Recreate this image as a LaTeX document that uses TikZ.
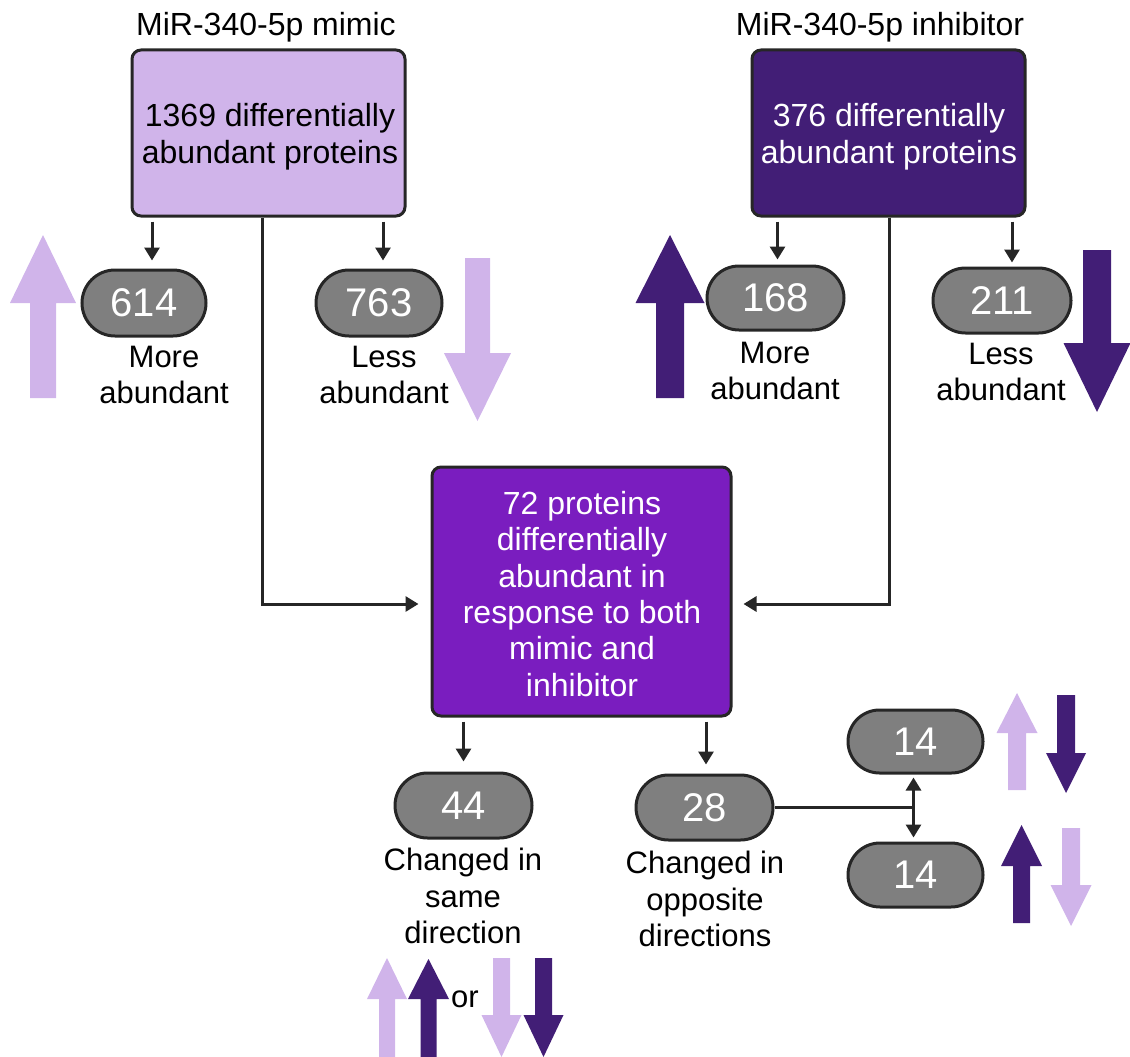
\documentclass[tikz,border=0pt]{standalone}
\usepackage{fontspec}
\setmainfont{Liberation Sans}
\usetikzlibrary{arrows.meta,shapes.misc,calc}
\definecolor{light}{HTML}{D0B4EA}
\definecolor{dark}{HTML}{421E76}
\definecolor{mid}{HTML}{7A1DBF}
\definecolor{pillgray}{HTML}{7F7F7F}
\definecolor{ink}{HTML}{262626}
\newcommand\BlkArrow[7]{%
  \fill[#1] (#2-#6,#5) -- (#2-#6,#4) -- (#2-#7,#4) -- (#2,#3) -- (#2+#7,#4) -- (#2+#6,#4) -- (#2+#6,#5) -- cycle;}
\begin{document}
\begin{tikzpicture}[x=1pt,y=-1pt,
  txt/.style={font=\fontsize{32}{37}\selectfont, align=center, inner sep=0pt},
  lbl/.style={font=\fontsize{31}{36.5}\selectfont, align=center, inner sep=0pt},
  box/.style={draw=ink, line width=3pt, rounded corners=9pt, txt},
  boxtext/.style={txt},
  pill/.style={draw=ink, line width=3pt, rounded rectangle, fill=pillgray, text=white,
    font=\fontsize{40}{44}\selectfont, inner sep=0pt},
  conn/.style={draw=ink, line width=3pt, -{Triangle[length=13pt,width=15pt]}},
  plain/.style={draw=ink, line width=3pt},
]
\useasboundingbox (0,0) rectangle (1130,1057);

% top boxes
\node[txt] (t1) at (266,27) {MiR-340-5p mimic};
\node[box, fill=light, minimum width=273pt, minimum height=166pt] (b1) at (268.5,133) {};
\node[boxtext] (b1t) at (270,137) {1369 differentially\\abundant proteins};
\node[txt] (t2) at (880,27) {MiR-340-5p inhibitor};
\node[box, fill=dark, minimum width=273pt, minimum height=166pt] (b2) at (888.5,133) {};
\node[boxtext, text=white] (b2t) at (889,137) {376 differentially\\abundant proteins};

% pills
\node[pill, minimum width=124pt, minimum height=66pt] (p614) at (144,303) {614};
\node[pill, minimum width=126pt, minimum height=66pt] (p763) at (379,303) {763};
\node[pill, minimum width=137pt, minimum height=64pt] (p168) at (775.5,298) {168};
\node[pill, minimum width=138pt, minimum height=65pt] (p211) at (1002,300.5) {211};

\node[lbl] (l614) at (164,375) {More\\abundant};
\node[lbl] (l763) at (384,375) {Less\\abundant};
\node[lbl] (l168) at (775,371) {More\\abundant};
\node[lbl] (l211) at (1001,372) {Less\\abundant};

% centre box
\node[box, fill=mid, text=white, minimum width=299pt, minimum height=249pt] (c) at (581.5,591.5) {};
\node[boxtext, text=white, font=\fontsize{32}{36.3}\selectfont] (ct) at (582,594)
  {72 proteins\\differentially\\abundant in\\response to both\\mimic and\\inhibitor};

\node[pill, minimum width=137pt, minimum height=65pt] (p44) at (463.5,805.5) {44};
\node[pill, minimum width=137pt, minimum height=65pt] (p28) at (704.5,807.5) {28};
\node[pill, minimum width=135pt, minimum height=63pt] (p14a) at (915.5,741.5) {14};
\node[pill, minimum width=135pt, minimum height=64pt] (p14b) at (915.5,875) {14};

\node[lbl] (l44) at (463,896) {Changed in\\same\\direction};
\node[lbl] (l28) at (705,899) {Changed in\\opposite\\directions};
\node[lbl] (or) at (465,999) {or};

% connectors
\draw[conn] ($(b1.south -| p614.north)+(8,4)$) -- ($(p614.north)+(8,-8)$);
\draw[conn] ($(b1.south -| p763.north)+(4,4)$) -- ($(p763.north)+(4,-8)$);
\draw[conn] ($(b2.south -| p168.north)+(2,4)$) -- ($(p168.north)+(2,-5)$);
\draw[conn] ($(b2.south -| p211.north)+(10,4)$) -- ($(p211.north)+(10,-4)$);

\draw[conn] ($(b1.south)+(-6.5,0)$) |- ($(c.west)+(-12,12.5)$);
\draw[conn] ($(b2.south)+(0.5,0)$) |- ($(c.east)+(11,12.5)$);

\draw[conn] ($(c.south -| p44.north)+(0,4)$) -- ($(p44.north)+(0,-10)$);
\draw[conn] ($(c.south -| p28.north)+(1.5,4)$) -- ($(p28.north)+(1.5,-9)$);

\draw[plain] (p28.east) -- ($(p28.east -| p14a.south)+(-1,0)$);
\draw[draw=ink, line width=3pt, {Triangle[length=13pt,width=15pt]}-{Triangle[length=13pt,width=15pt]}]
  ($(p14a.south)+(-2,3)$) -- ($(p14b.north)+(-2,-4)$);

% block arrows
\BlkArrow{light}{43}{235}{303}{398}{13}{33}
\BlkArrow{light}{477.5}{421}{353}{258}{12.5}{33.5}
\BlkArrow{dark}{670}{235}{303}{398}{14}{34.5}
\BlkArrow{dark}{1097}{412}{343}{250}{14}{33.5}

\BlkArrow{light}{1017}{693}{733}{790}{9}{20.5}
\BlkArrow{dark}{1066}{793}{753}{695}{9}{20}
\BlkArrow{dark}{1021.5}{825}{866}{923}{8.5}{20.5}
\BlkArrow{light}{1071}{926}{885}{828}{9}{20.5}

\BlkArrow{light}{387}{958}{999}{1057}{8}{20}
\BlkArrow{dark}{428.5}{959}{999}{1057}{8}{20.5}
\BlkArrow{light}{501.5}{1057}{1015}{958}{8.5}{20}
\BlkArrow{dark}{543.5}{1057}{1015}{958}{8.5}{20}
\end{tikzpicture}
\end{document}
